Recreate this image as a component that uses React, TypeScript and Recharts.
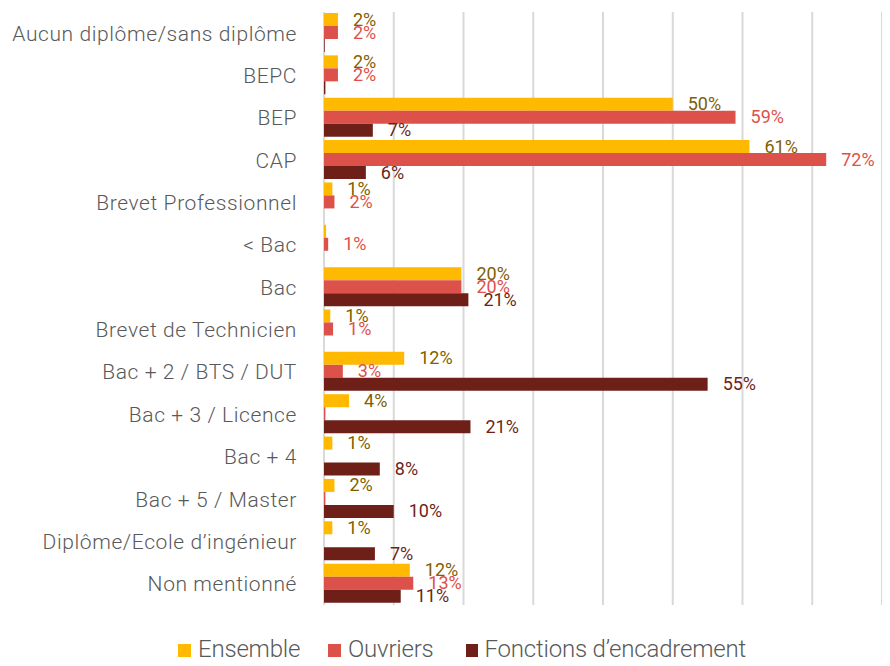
import React from 'react';
import {
  BarChart,
  Bar,
  XAxis,
  YAxis,
  CartesianGrid,
  Legend,
  LabelList,
} from 'recharts';

const categories = [
  'Aucun diplôme/sans diplôme',
  'BEPC',
  'BEP',
  'CAP',
  'Brevet Professionnel',
  '< Bac',
  'Bac',
  'Brevet de Technicien',
  'Bac + 2 / BTS / DUT',
  'Bac + 3 / Licence',
  'Bac + 4',
  'Bac + 5 / Master',
  'Diplôme/Ecole d’ingénieur',
  'Non mentionné',
];

const ensemble = [2, 2, 50, 61, 1.2, 0.3, 19.7, 0.9, 11.5, 3.6, 1.2, 1.5, 1.2, 12.3];
const ouvriers = [2, 2, 59, 72, 1.5, 0.6, 19.7, 1.3, 2.7, 0.2, null, 0.2, null, 12.8];
const encadrement = [0.1, 0.2, 7, 6, null, null, 20.7, null, 55, 21, 8, 10, 7.3, 11];

const xTicks = [0, 10, 20, 30, 40, 50, 60, 70, 80];

const series = [
  { key: 'ensemble', name: 'Ensemble', color: '#FFB900', labelColor: '#7F6000', legendWidth: 150 },
  { key: 'ouvriers', name: 'Ouvriers', color: '#DC524B', labelColor: '#E0504A', legendWidth: 138 },
  { key: 'encadrement', name: 'Fonctions d’encadrement', color: '#6E1F18', labelColor: '#6E1F18', legendWidth: 280 },
];

const data = categories.map((name, i) => ({
  name,
  ensemble: ensemble[i],
  ouvriers: ouvriers[i],
  encadrement: encadrement[i],
}));

const FONT = 'Roboto, "Open Sans", sans-serif';

const pctLabel = (color: string) => (props: any) => {
  const { x, y, width, height, value } = props;
  if (value == null || value < 0.5) return null;
  return (
    <text
      x={x + width + 15}
      y={y + height / 2}
      dy={6}
      fill={color}
      fontSize={18}
      fontFamily={FONT}
      fontWeight={400}
    >
      {Math.round(value)}%
    </text>
  );
};

const LegendContent = () => (
  <div
    style={{
      height: 61,
      display: 'flex',
      alignItems: 'flex-start',
      paddingLeft: 178,
      paddingTop: 32,
      boxSizing: 'border-box',
    }}
  >
    {series.map((s) => (
      <div
        key={s.key}
        style={{
          display: 'flex',
          alignItems: 'center',
          width: s.legendWidth,
          fontFamily: FONT,
          fontWeight: 300,
          fontSize: 24,
          color: '#595959',
          lineHeight: '24px',
          letterSpacing: -0.2,
          whiteSpace: 'nowrap',
        }}
      >
        <span
          style={{
            display: 'inline-block',
            width: 13,
            height: 13,
            background: s.color,
            marginRight: 7,
            marginTop: 3,
          }}
        />
        {s.name}
      </div>
    ))}
  </div>
);

export default function App() {
  return (
    <div style={{ margin: -8, width: 890, height: 666, background: '#fff' }}>
      <BarChart
        width={890}
        height={666}
        data={data}
        layout="vertical"
        margin={{ top: 12, right: 8, bottom: 0, left: 0 }}
        barCategoryGap={1}
        barGap={0}
      >
        <CartesianGrid horizontal={false} stroke="#D9D9D9" strokeWidth={2} />
        <XAxis type="number" domain={[0, 80]} ticks={xTicks} hide />
        <YAxis
          type="category"
          dataKey="name"
          width={324}
          axisLine={false}
          tickLine={false}
          tickSize={0}
          tickMargin={27}
          interval={0}
          tick={{
            fill: '#595959',
            fontSize: 21,
            fontFamily: FONT,
            fontWeight: 300,
            letterSpacing: 0.6,
          }}
        />
        <Legend verticalAlign="bottom" content={<LegendContent />} />
        {series.map((s) => (
          <Bar
            key={s.key}
            dataKey={s.key}
            name={s.name}
            fill={s.color}
            isAnimationActive={false}
          >
            <LabelList dataKey={s.key} content={pctLabel(s.labelColor)} />
          </Bar>
        ))}
      </BarChart>
    </div>
  );
}
